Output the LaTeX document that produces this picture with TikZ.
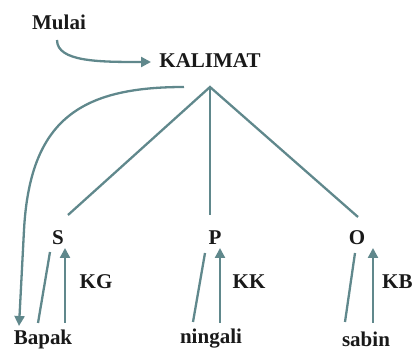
\documentclass[tikz,border=0pt]{standalone}
\usepackage{fontspec}
\setmainfont{Liberation Serif}
\usetikzlibrary{arrows.meta}
\definecolor{linec}{RGB}{96,136,140}
\definecolor{textc}{RGB}{25,25,25}
\tikzset{
  lbl/.style={font=\fontsize{21}{24}\selectfont\bfseries, text=textc, inner sep=0pt},
  conn/.style={draw=linec, line width=2.3pt},
  arr/.style={conn, -{Triangle[length=10pt,width=10pt]}},
}
\begin{document}
\begin{tikzpicture}[x=1pt,y=-1pt]
\useasboundingbox (0,0) rectangle (416,350);
% labels
\node[lbl] (mulai) at (59,22) {Mulai};
\node[lbl] (kal) at (210,61) {KALIMAT};
\node[lbl] (S) at (58,238) {S};
\node[lbl] (P) at (215,238) {P};
\node[lbl] (O) at (357,238) {O};
\node[lbl] (bapak) at (43,339) {Bapak};
\node[lbl] (ningali) at (211,339) {ningali};
\node[lbl] (sabin) at (366,339) {sabin};
\node[lbl] (KG) at (96,282) {KG};
\node[lbl] (KK) at (249,282) {KK};
\node[lbl, anchor=west] (KB) at (382,282) {KB};
% coordinates
\coordinate (apex) at (210,87);
\coordinate (stop) at (68,215);
\coordinate (ptop) at (210,215);
\coordinate (otop) at (358,217);
\coordinate (mstart) at (57,40);
\coordinate (kin) at (151,62);
\coordinate (lstart) at (184,87);
\coordinate (lmid) at (24,230);
\coordinate (ltip) at (19,326);
% tree
\draw[conn] (stop) -- (apex) -- (otop);
\draw[conn] (apex) -- (ptop);
% Mulai -> KALIMAT
\draw[arr] (mstart) .. controls (57,62) and (100,62) .. (kin);
% KALIMAT -> Bapak
\draw[arr] (lstart) .. controls (80,87) and (30,120) .. (lmid) -- (ltip);
% under S
\coordinate (s1) at (38,323); \coordinate (s2) at (50,252);
\coordinate (s3) at (65,323); \coordinate (s4) at (65,248);
\draw[conn] (s1) -- (s2);
\draw[arr] (s3) -- (s4);
% under P
\coordinate (p1) at (193,322); \coordinate (p2) at (205,253);
\coordinate (p3) at (220,323); \coordinate (p4) at (220,248);
\draw[conn] (p1) -- (p2);
\draw[arr] (p3) -- (p4);
% under O
\coordinate (o1) at (345,322); \coordinate (o2) at (355,253);
\coordinate (o3) at (373,323); \coordinate (o4) at (373,248);
\draw[conn] (o1) -- (o2);
\draw[arr] (o3) -- (o4);
\end{tikzpicture}
\end{document}
